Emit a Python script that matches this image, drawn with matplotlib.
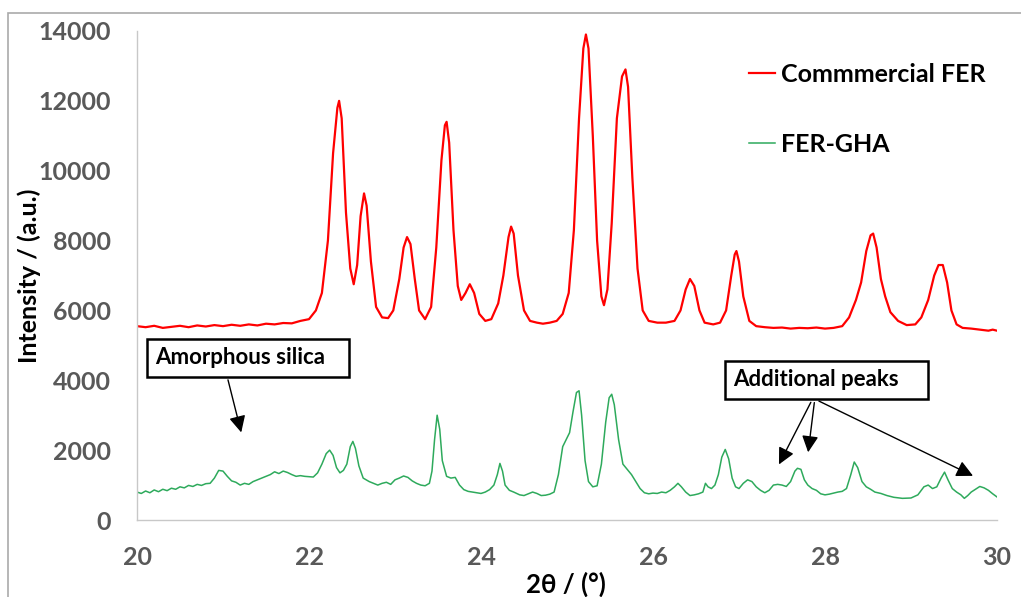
import matplotlib
matplotlib.use("Agg")
import matplotlib.pyplot as plt
from matplotlib.patches import Rectangle

plt.rcParams['font.family'] = ['Lato', 'DejaVu Sans']

# Commercial FER (red trace)
red_2theta = [20.00, 20.10, 20.20, 20.30, 20.40, 20.50, 20.60, 20.70, 20.80, 20.90,
              21.00, 21.10, 21.20, 21.30, 21.40, 21.50, 21.60, 21.70, 21.80, 21.90,
              22.00, 22.08, 22.15, 22.22, 22.28, 22.33, 22.35, 22.38, 22.43, 22.48,
              22.52, 22.56, 22.60, 22.64, 22.67, 22.72, 22.78, 22.85, 22.92, 22.98,
              23.05, 23.10, 23.14, 23.18, 23.23, 23.28, 23.35, 23.42, 23.48, 23.54,
              23.58, 23.60, 23.63, 23.68, 23.73, 23.77, 23.82, 23.87, 23.92, 23.98,
              24.05, 24.12, 24.20, 24.26, 24.32, 24.35, 24.38, 24.43, 24.50, 24.57,
              24.65, 24.72, 24.80, 24.88, 24.95, 25.02, 25.08, 25.14, 25.19, 25.22,
              25.25, 25.30, 25.35, 25.40, 25.43, 25.47, 25.52, 25.58, 25.64, 25.68,
              25.71, 25.76, 25.82, 25.88, 25.95, 26.05, 26.15, 26.25, 26.32, 26.38,
              26.43, 26.48, 26.54, 26.60, 26.70, 26.78, 26.85, 26.91, 26.95, 26.97,
              27.00, 27.05, 27.12, 27.20, 27.30, 27.40, 27.50, 27.60, 27.70, 27.80,
              27.90, 28.00, 28.10, 28.20, 28.28, 28.36, 28.42, 28.48, 28.53, 28.56,
              28.60, 28.65, 28.70, 28.76, 28.85, 28.95, 29.05, 29.12, 29.20, 29.27,
              29.32, 29.37, 29.42, 29.47, 29.53, 29.60, 29.70, 29.80, 29.90, 29.95,
              30.00]
red_intensity = [5550, 5520, 5560, 5500, 5530, 5560, 5520, 5570, 5540, 5580,
                 5550, 5590, 5560, 5600, 5570, 5620, 5600, 5640, 5630, 5700,
                 5750, 6000, 6500, 8000, 10500, 11800, 12000, 11500, 8800, 7200,
                 6750, 7300, 8700, 9350, 9000, 7400, 6100, 5800, 5780, 6000,
                 6900, 7800, 8100, 7900, 6900, 6000, 5750, 6100, 7800, 10300,
                 11300, 11400, 10800, 8300, 6700, 6300, 6500, 6750, 6500, 5900,
                 5700, 5750, 6200, 7000, 8100, 8400, 8200, 7000, 6000, 5700,
                 5650, 5620, 5650, 5700, 5900, 6500, 8300, 11500, 13500, 13900,
                 13500, 11000, 8000, 6400, 6150, 6600, 8500, 11500, 12700, 12900,
                 12400, 9800, 7200, 6000, 5700, 5650, 5650, 5700, 6000, 6600,
                 6900, 6700, 6000, 5650, 5600, 5650, 6000, 7000, 7600, 7700,
                 7400, 6400, 5700, 5550, 5520, 5500, 5510, 5480, 5500, 5490,
                 5510, 5480, 5500, 5550, 5800, 6300, 6800, 7700, 8150, 8200,
                 7800, 6900, 6400, 5950, 5700, 5580, 5600, 5800, 6300, 7000,
                 7300, 7300, 6800, 6000, 5600, 5500, 5480, 5450, 5420, 5450,
                 5420]

# FER-GHA (green trace)
green_2theta = [20.00, 20.05, 20.10, 20.15, 20.20, 20.25, 20.30, 20.35, 20.40, 20.45,
                20.50, 20.55, 20.60, 20.65, 20.70, 20.75, 20.80, 20.85, 20.90, 20.95,
                21.00, 21.05, 21.10, 21.15, 21.20, 21.25, 21.30, 21.35, 21.40, 21.45,
                21.50, 21.55, 21.60, 21.65, 21.70, 21.75, 21.80, 21.85, 21.90, 21.95,
                22.00, 22.05, 22.10, 22.15, 22.20, 22.24, 22.28, 22.32, 22.36, 22.40,
                22.44, 22.48, 22.51, 22.54, 22.58, 22.63, 22.70, 22.75, 22.80, 22.85,
                22.90, 22.95, 23.00, 23.05, 23.10, 23.15, 23.20, 23.25, 23.30, 23.35,
                23.40, 23.43, 23.46, 23.49, 23.52, 23.55, 23.60, 23.65, 23.70, 23.75,
                23.80, 23.85, 23.90, 23.95, 24.00, 24.05, 24.10, 24.15, 24.19, 24.22,
                24.25, 24.28, 24.33, 24.38, 24.45, 24.50, 24.55, 24.60, 24.65, 24.70,
                24.75, 24.80, 24.85, 24.90, 24.95, 24.99, 25.03, 25.07, 25.11, 25.14,
                25.17, 25.21, 25.25, 25.30, 25.35, 25.40, 25.45, 25.49, 25.52, 25.55,
                25.60, 25.65, 25.70, 25.75, 25.80, 25.85, 25.90, 25.95, 26.00, 26.05,
                26.10, 26.15, 26.20, 26.25, 26.29, 26.33, 26.38, 26.43, 26.48, 26.53,
                26.58, 26.61, 26.64, 26.68, 26.72, 26.76, 26.80, 26.84, 26.88, 26.92,
                26.96, 27.00, 27.05, 27.10, 27.15, 27.20, 27.25, 27.30, 27.35, 27.40,
                27.45, 27.50, 27.55, 27.60, 27.65, 27.68, 27.72, 27.76, 27.80, 27.85,
                27.90, 27.95, 28.00, 28.05, 28.10, 28.15, 28.20, 28.25, 28.30, 28.34,
                28.38, 28.43, 28.48, 28.53, 28.58, 28.65, 28.72, 28.80, 28.90, 29.00,
                29.08, 29.15, 29.20, 29.25, 29.30, 29.35, 29.39, 29.43, 29.48, 29.53,
                29.58, 29.62, 29.66, 29.70, 29.75, 29.80, 29.85, 29.90, 29.95, 30.00]
green_intensity = [800, 760, 830, 780, 860, 810, 880, 840, 910, 880,
                   950, 920, 990, 960, 1020, 990, 1040, 1050, 1200, 1420,
                   1400, 1250, 1120, 1080, 1000, 1050, 1020, 1100, 1150, 1200,
                   1250, 1300, 1380, 1330, 1400, 1360, 1300, 1250, 1270, 1250,
                   1240, 1230, 1350, 1600, 1900, 2000, 1850, 1500, 1350, 1420,
                   1600, 2100, 2250, 2050, 1550, 1200, 1100, 1050, 1000, 1050,
                   1080, 1020, 1150, 1200, 1260, 1220, 1120, 1050, 1000, 980,
                   1050, 1400, 2300, 3000, 2600, 1700, 1250, 1200, 1220, 1000,
                   870, 820, 800, 780, 760, 800, 870, 1000, 1300, 1620,
                   1400, 1000, 850, 800, 720, 700, 750, 800, 760, 700,
                   710, 740, 800, 1300, 2100, 2300, 2500, 3100, 3650, 3700,
                   3000, 1700, 1100, 950, 980, 1600, 2800, 3500, 3600, 3300,
                   2300, 1600, 1450, 1300, 1100, 900, 780, 750, 770, 760,
                   800, 780, 850, 950, 1050, 950, 800, 700, 720, 750,
                   800, 1050, 950, 900, 1000, 1300, 1800, 2020, 1750, 1200,
                   950, 900, 1050, 1150, 1100, 950, 850, 780, 850, 1000,
                   1020, 1000, 960, 1100, 1400, 1480, 1450, 1150, 1000, 900,
                   850, 750, 720, 740, 770, 800, 820, 900, 1300, 1660,
                   1500, 1100, 950, 880, 800, 760, 700, 650, 620, 630,
                   720, 950, 1000, 900, 950, 1200, 1370, 1150, 900, 800,
                   720, 620, 700, 800, 880, 960, 920, 850, 750, 660]

x_ticks = [20, 22, 24, 26, 28, 30]
y_ticks = [0, 2000, 4000, 6000, 8000, 10000, 12000, 14000]

fig = plt.figure(figsize=(10.21, 5.97), dpi=100)
ax = fig.add_axes([137 / 1021, 77 / 597, 860 / 1021, 489 / 597])

# outer chart frame
fig.patches.append(Rectangle((8 / 1021, -0.1), 1.2, (597 - 13) / 597 + 0.1,
                             transform=fig.transFigure, fill=False,
                             edgecolor='#aaaaaa', linewidth=1.2))

ax.plot(red_2theta, red_intensity, color='#ff0000', linewidth=1.6, label='Commmercial FER')
ax.plot(green_2theta, green_intensity, color='#2eaa5c', linewidth=1.1, label='FER-GHA')

ax.set_xlim(20, 30)
ax.set_ylim(0, 14000)
ax.set_xticks(x_ticks)
ax.set_yticks(y_ticks)
for s in ['top', 'right']:
    ax.spines[s].set_visible(False)
for s in ['left', 'bottom']:
    ax.spines[s].set_color('#c8c8c8')
    ax.spines[s].set_linewidth(1.0)
ax.tick_params(length=0, labelsize=18, labelcolor='#595959')
ax.tick_params(axis='x', pad=19)
ax.tick_params(axis='y', pad=19)
for lbl in ax.get_xticklabels() + ax.get_yticklabels():
    lbl.set_fontweight('bold')

ax.set_xlabel('2θ / (°)', fontsize=18.5, fontweight='bold')
ax.xaxis.set_label_coords(0.499, -0.105)
ax.set_ylabel('Intensity / (a.u.)', fontsize=18, fontweight='bold')
ax.yaxis.set_label_coords(-0.112, 0.5)

ax.legend(loc='upper left', bbox_to_anchor=(736 / 1021, 1 - 50 / 597),
          bbox_transform=fig.transFigure, frameon=False, borderpad=0,
          handlelength=1.05, handletextpad=0.25, labelspacing=1.9,
          prop={'size': 18, 'weight': 'bold'})

box = dict(boxstyle='square,pad=0.37', facecolor='white', edgecolor='black', linewidth=1.8)
arrow = dict(arrowstyle='-|>,head_length=1.0,head_width=0.5', color='black', linewidth=1.0)

ax.text(20.21, 4640, 'Amorphous silica   ', fontsize=16, fontweight='bold', va='center',
        ha='left', bbox=box)
ax.annotate('', xy=(21.22, 2430), xytext=(21.05, 4090), arrowprops=arrow)

ax.text(26.93, 4010, 'Additional peaks    ', fontsize=16, fontweight='bold', va='center',
        ha='left', bbox=box)
ax.annotate('', xy=(27.45, 1520), xytext=(27.85, 3440), arrowprops=arrow)
ax.annotate('', xy=(27.80, 1860), xytext=(27.88, 3440), arrowprops=arrow)
ax.annotate('', xy=(29.75, 1230), xytext=(27.90, 3440), arrowprops=arrow)

fig.savefig('out.png', dpi=100)
